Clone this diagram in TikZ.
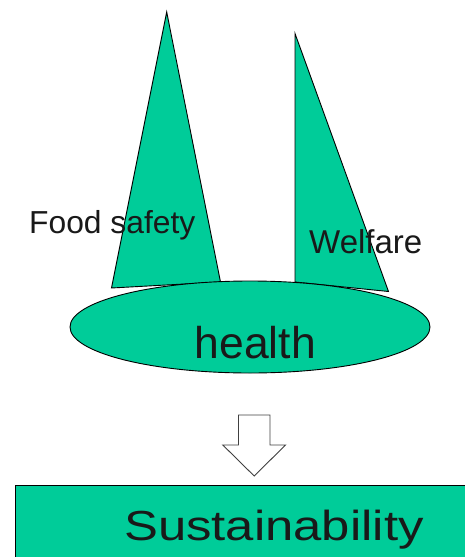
\documentclass[tikz,border=0pt]{standalone}
\usepackage{fontspec}
\setmainfont{Liberation Sans}
\usetikzlibrary{shapes.geometric}
\definecolor{teal1}{RGB}{0,204,153}
\begin{document}
\begin{tikzpicture}[x=1pt,y=-1pt,
  shapefill/.style={fill=teal1,draw=black,line width=0.9pt,line join=miter},
  lbl/.style={inner sep=0pt,anchor=base west,text=black!90}]
\useasboundingbox (0,0) rectangle (465,557);
\clip (0,0) rectangle (465,557);
% triangles
\coordinate (la) at (166.7,12);
\coordinate (lb) at (111.5,288);
\coordinate (lc) at (220.5,282);
\draw[shapefill] (la) -- (lb) -- (lc) -- cycle;
\coordinate (ra) at (295,33.5);
\coordinate (rb) at (295,282);
\coordinate (rc) at (388.5,291.5);
\draw[shapefill] (ra) -- (rb) -- (rc) -- cycle;
% ellipse
\node[shapefill,ellipse,minimum width=360pt,minimum height=92pt,inner sep=0pt] (health) at (250,327) {};
% labels
\node[lbl,font=\fontsize{31.8}{31.8}\selectfont] (food) at (29,233.5) {Food safety};
\node[lbl,font=\fontsize{33}{33}\selectfont] (welf) at (309,253.3) {Welfare};
\node[lbl,font=\fontsize{44.5}{44.5}\selectfont] (htext) at (194.5,358.3) {health};
% block arrow
\coordinate (a1) at (238.5,415);
\coordinate (a2) at (270,415);
\coordinate (a3) at (270,445);
\coordinate (a4) at (285.5,445);
\coordinate (a5) at (254.2,476);
\coordinate (a6) at (222.8,445);
\coordinate (a7) at (238.5,445);
\draw[fill=white,draw=black!75,line width=0.9pt] (a1) -- (a2) -- (a3) -- (a4) -- (a5) -- (a6) -- (a7) -- cycle;
% bottom box
\coordinate (s1) at (15,485);
\coordinate (s2) at (480,575);
\draw[shapefill] (s1) rectangle (s2);
\node[lbl,font=\fontsize{42}{42}\selectfont,xscale=1.21] (sust) at (124,540) {Sustainability};
\end{tikzpicture}
\end{document}
